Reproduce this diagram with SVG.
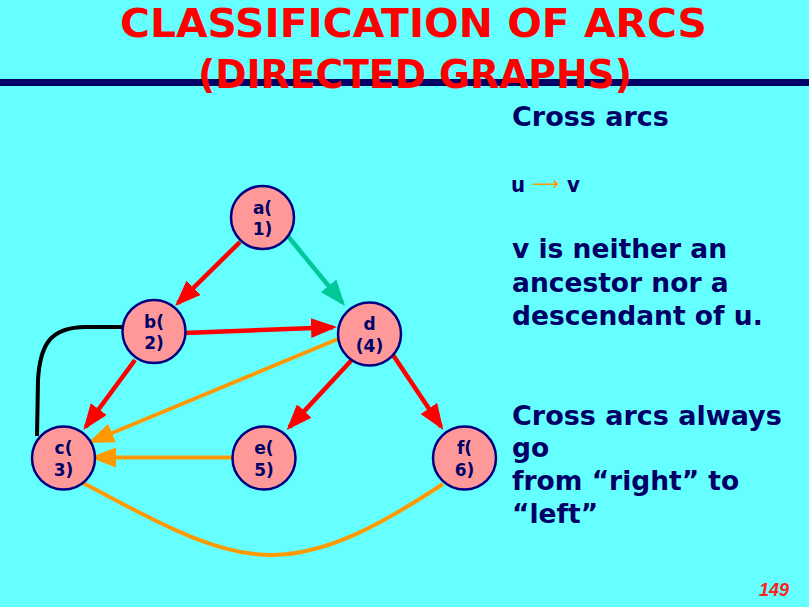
<svg xmlns="http://www.w3.org/2000/svg" width="809" height="607" viewBox="0 0 809 607">
  <style>
    .title { font-family: "DejaVu Sans", "Liberation Sans", sans-serif; font-weight: bold; font-size: 39px; fill: #FF0000; }
    .node circle { fill: #FF9999; stroke: #000080; stroke-width: 2.5; }
    .node text { font-family: "DejaVu Sans", "Liberation Sans", sans-serif; font-weight: bold; font-size: 17px; fill: #000066; text-anchor: middle; }
    .body { font-family: "DejaVu Sans", "Liberation Sans", sans-serif; font-weight: bold; font-size: 26.5px; fill: #000066; }
    .small { font-family: "DejaVu Sans Condensed", "DejaVu Sans", sans-serif; font-weight: bold; font-size: 22px; fill: #000066; }
    .sym { font-family: "DejaVu Sans", sans-serif; font-size: 19px; fill: #FF9900; }
    .edge { fill: none; stroke-width: 4.5; }
    .red { stroke: #FF0000; }
    .green { stroke: #00C896; }
    .orange { stroke: #FF9900; stroke-width: 4; }
    .black { stroke: #000000; stroke-width: 4; }
  </style>
  <defs>
    <marker id="ah-red" markerUnits="userSpaceOnUse" markerWidth="26" markerHeight="20" refX="22" refY="10" orient="auto">
      <path d="M0,0 L26,10 L0,20 z" fill="#FF0000"/>
    </marker>
    <marker id="ah-green" markerUnits="userSpaceOnUse" markerWidth="26" markerHeight="20" refX="22" refY="10" orient="auto">
      <path d="M0,0 L26,10 L0,20 z" fill="#00C896"/>
    </marker>
    <marker id="ah-orange" markerUnits="userSpaceOnUse" markerWidth="26" markerHeight="20" refX="22" refY="10" orient="auto">
      <path d="M0,0 L26,10 L0,20 z" fill="#FF9900"/>
    </marker>
  </defs>

  <!-- background -->
  <rect x="0" y="0" width="809" height="607" fill="#66FFFF"/>

  <!-- header rule -->
  <rect x="0" y="79" width="809" height="7" fill="#000066"/>

  <!-- title -->
  <text class="title" x="413.5" y="36.5" text-anchor="middle" textLength="587" lengthAdjust="spacingAndGlyphs">CLASSIFICATION OF ARCS</text>
  <text class="title" x="415" y="88" text-anchor="middle" textLength="434" lengthAdjust="spacingAndGlyphs">(DIRECTED GRAPHS)</text>

  <!-- connectors -->
  <g id="edges">
    <line class="edge red" x1="240" y1="242" x2="177.9" y2="303.2" marker-end="url(#ah-red)"/>
    <line class="edge green" x1="287" y1="235" x2="342.5" y2="302.9" marker-end="url(#ah-green)"/>
    <line class="edge red" x1="184" y1="333" x2="333" y2="327.2" marker-end="url(#ah-red)"/>
    <line class="edge red" x1="135" y1="360" x2="85.7" y2="426.8" marker-end="url(#ah-red)"/>
    <line class="edge orange" x1="338" y1="339" x2="91.7" y2="441.5" marker-end="url(#ah-orange)"/>
    <line class="edge red" x1="351.7" y1="360" x2="289.4" y2="427.1" marker-end="url(#ah-red)"/>
    <line class="edge red" x1="391.7" y1="353" x2="441.1" y2="426.7" marker-end="url(#ah-red)"/>
    <line class="edge orange" x1="232.5" y1="457.5" x2="94" y2="457.5" marker-end="url(#ah-orange)"/>
    <path class="edge orange" d="M83,483 C140,512 210,556 273,555 C330,554 385,522 443,484"/>
    <path class="edge black" d="M122,327 L86,327 C50,327 40,345 38,380 L37,436"/>
  </g>

  <!-- nodes -->
  <g id="node-a" class="node">
    <circle cx="262.5" cy="217.5" r="31.5"/>
    <text x="262.5" y="213.5">a(</text>
    <text x="262.5" y="235">1)</text>
  </g>
  <g id="node-b" class="node">
    <circle cx="154" cy="331.5" r="31.5"/>
    <text x="154" y="327.5">b(</text>
    <text x="154" y="349">2)</text>
  </g>
  <g id="node-d" class="node">
    <circle cx="369.5" cy="334" r="31.5"/>
    <text x="369.5" y="330">d</text>
    <text x="369.5" y="351.5">(4)</text>
  </g>
  <g id="node-c" class="node">
    <circle cx="63.5" cy="458" r="31.5"/>
    <text x="63.5" y="454">c(</text>
    <text x="63.5" y="475.5">3)</text>
  </g>
  <g id="node-e" class="node">
    <circle cx="264" cy="458" r="31.5"/>
    <text x="264" y="454">e(</text>
    <text x="264" y="475.5">5)</text>
  </g>
  <g id="node-f" class="node">
    <circle cx="464.5" cy="458" r="31.5"/>
    <text x="464.5" y="454">f(</text>
    <text x="464.5" y="475.5">6)</text>
  </g>

  <!-- explanation -->
  <text class="body" x="512" y="126" style="font-size:27px">Cross arcs</text>
  <text class="small" x="511" y="192">u</text>
  <text class="sym" x="532" y="190">⟶</text>
  <text class="small" x="567" y="192">v</text>
  <text class="body" x="512" y="258">v is neither an</text>
  <text class="body" x="512" y="291.5">ancestor nor a</text>
  <text class="body" x="512" y="324.5">descendant of u.</text>
  <text class="body" x="512" y="424.5" style="font-size:27px">Cross arcs always</text>
  <text class="body" x="512" y="457">go</text>
  <text class="body" x="512" y="490">from “right” to</text>
  <text class="body" x="512" y="523">“left”</text>

  <!-- page number -->
  <text x="774" y="596" text-anchor="middle" font-family="Liberation Sans, sans-serif" font-style="italic" font-weight="bold" font-size="18" fill="#FF2020">149</text>
</svg>
